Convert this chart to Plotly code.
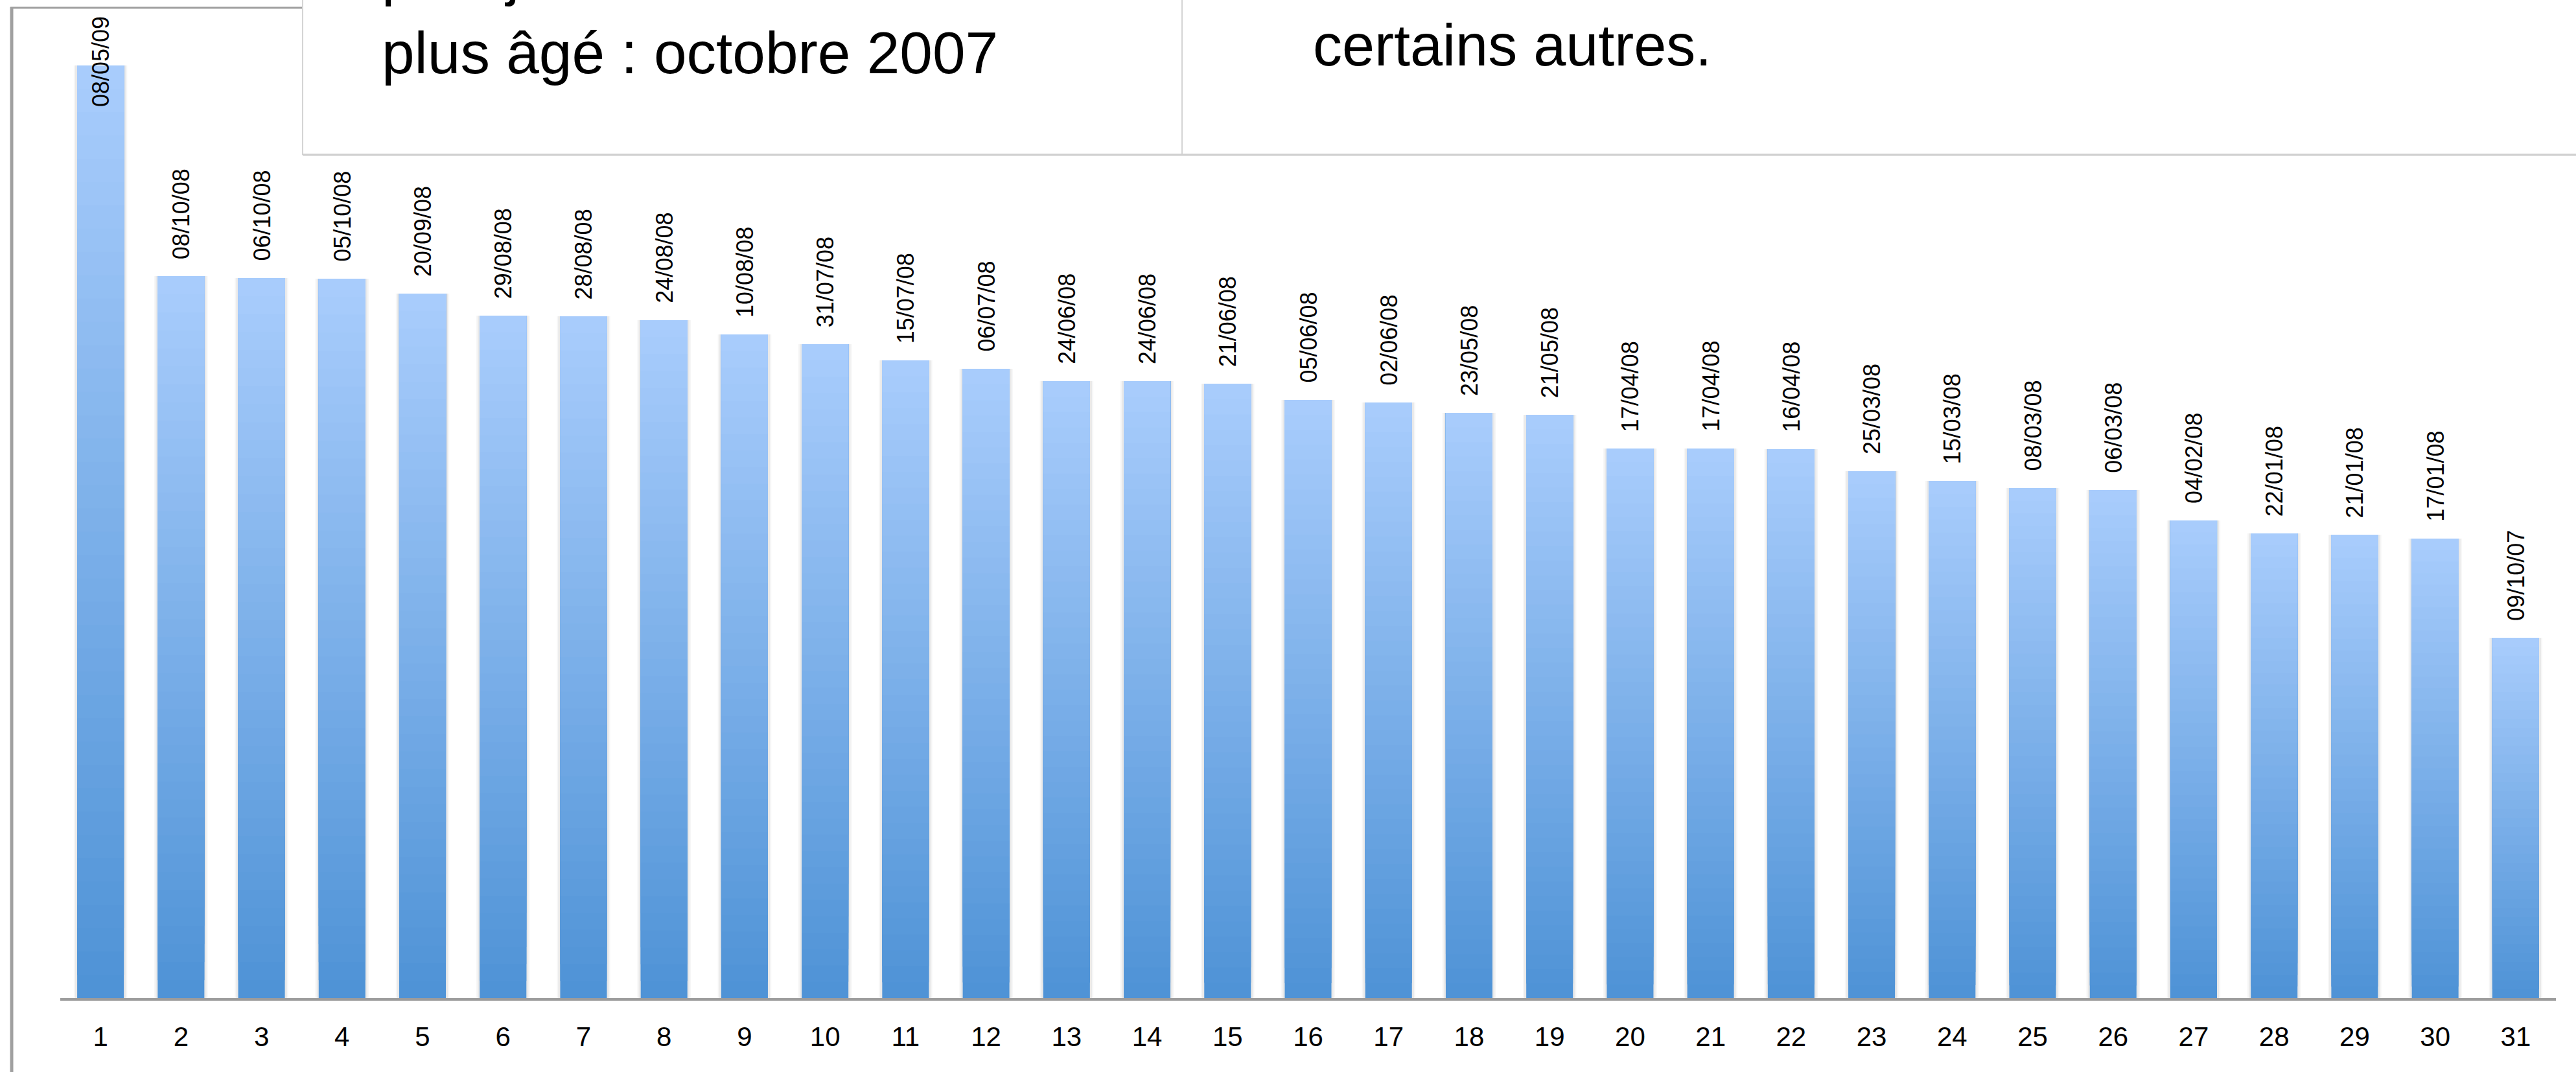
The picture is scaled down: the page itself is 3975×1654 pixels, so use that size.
import plotly.graph_objects as go

# ---------------- data ----------------
ranks = list(range(1, 32))
dates = ["08/05/09", "08/10/08", "06/10/08", "05/10/08", "20/09/08", "29/08/08",
         "28/08/08", "24/08/08", "10/08/08", "31/07/08", "15/07/08", "06/07/08",
         "24/06/08", "24/06/08", "21/06/08", "05/06/08", "02/06/08", "23/05/08",
         "21/05/08", "17/04/08", "17/04/08", "16/04/08", "25/03/08", "15/03/08",
         "08/03/08", "06/03/08", "04/02/08", "22/01/08", "21/01/08", "17/01/08",
         "09/10/07"]
values = [1439, 1114, 1111, 1110, 1087, 1053, 1052, 1046, 1024, 1009, 984,
          971, 952, 952, 948, 923, 919, 903, 900, 848, 848, 847, 813, 798,
          787, 784, 737, 717, 715, 709, 556]
tick_labels = [str(r) for r in ranks]
box_texts_left = ["plus jeune : mai 2009", "plus âgé : octobre 2007"]
box_text_right = "certains autres."

# ---------------- geometry ----------------
W, H = 3975, 1654
ML, MR, MT, MB = 93, 31, 23, 114
PW, PH = W - ML - MR, H - MT - MB
YMAX = 1517


def px_x(px):
    return (px - ML) / PW


def px_y(py):
    return (H - MB - py) / PH


FONT = "Liberation Sans, Arial, Helvetica, sans-serif"
BAR_W = 0.58

top_rgb = (168, 204, 252)
bot_rgb = (79, 147, 214)
N = 40

fig = go.Figure()

# soft shadow behind bars
for wextra, alpha in [(0.085, 0.035), (0.05, 0.05)]:
    fig.add_trace(go.Bar(x=ranks, y=values, width=BAR_W + wextra,
                         marker=dict(color=f"rgba(0,0,0,{alpha})", line=dict(width=0)),
                         hoverinfo="skip", showlegend=False))

# gradient bars (each layer from its fraction up to the top)
for k in range(N):
    t = k / (N - 1)
    c = tuple(round(bot_rgb[i] + (top_rgb[i] - bot_rgb[i]) * t) for i in range(3))
    base = [v * k / N for v in values]
    h = [v - b for v, b in zip(values, base)]
    fig.add_trace(go.Bar(x=ranks, y=h, base=base, width=BAR_W,
                         marker=dict(color=f"rgb{c}", line=dict(width=0)),
                         hoverinfo="skip", showlegend=False))

annotations = []
LABEL_GAP = 24
LABEL_LEN = 134
LABEL_SIZE = 36
for r, v, d in zip(ranks, values, dates):
    if v + (LABEL_GAP + LABEL_LEN) * YMAX / PH > YMAX:
        annotations.append(dict(x=r, y=1, xref="x", yref="paper", text=d,
                                textangle=-90, showarrow=False, xanchor="center",
                                yanchor="top",
                                font=dict(family=FONT, size=LABEL_SIZE, color="#000")))
    else:
        annotations.append(dict(x=r, y=v, xref="x", yref="y", text=d,
                                textangle=-90, showarrow=False, xanchor="center",
                                yanchor="bottom", yshift=LABEL_GAP,
                                font=dict(family=FONT, size=LABEL_SIZE, color="#000")))

# text boxes
annotations.append(dict(x=px_x(587), y=px_y(-41), xref="paper", yref="paper",
                        text=box_texts_left[0], showarrow=False, xanchor="left",
                        yanchor="middle", font=dict(family=FONT, size=91, color="#000")))
annotations.append(dict(x=px_x(587), y=px_y(81), xref="paper", yref="paper",
                        text=box_texts_left[1], showarrow=False, xanchor="left",
                        yanchor="middle", font=dict(family=FONT, size=91, color="#000")))
annotations.append(dict(x=px_x(2024), y=px_y(70), xref="paper", yref="paper",
                        text=box_text_right, showarrow=False, xanchor="left",
                        yanchor="middle", font=dict(family=FONT, size=90, color="#000")))

shapes = [
    # chart frame
    dict(type="line", xref="paper", yref="paper", x0=px_x(16), x1=px_x(W + 10),
         y0=px_y(12), y1=px_y(12), line=dict(color="#a0a0a0", width=3), layer="above"),
    dict(type="line", xref="paper", yref="paper", x0=px_x(18), x1=px_x(18),
         y0=px_y(11), y1=px_y(H + 10), line=dict(color="#a0a0a0", width=5), layer="above"),
    # text boxes
    dict(type="rect", xref="paper", yref="paper", x0=px_x(467), x1=px_x(1824),
         y0=px_y(-20), y1=px_y(238), fillcolor="white",
         line=dict(color="#d4d4d4", width=2), layer="above"),
    dict(type="rect", xref="paper", yref="paper", x0=px_x(1824), x1=px_x(W + 20),
         y0=px_y(-20), y1=px_y(238), fillcolor="white",
         line=dict(color="#d4d4d4", width=2), layer="above"),
    dict(type="line", xref="paper", yref="paper", x0=px_x(467), x1=px_x(W + 20),
         y0=px_y(239), y1=px_y(239), line=dict(color="#d0d0d0", width=3), layer="above"),
]

fig.update_layout(
    width=W, height=H,
    margin=dict(l=ML, r=MR, t=MT, b=MB, pad=0),
    paper_bgcolor="white", plot_bgcolor="white",
    barmode="overlay", bargap=0.42,
    showlegend=False,
    annotations=annotations,
    shapes=shapes,
    xaxis=dict(range=[0.5, 31.5], tickmode="array", tickvals=ranks, ticktext=tick_labels,
               showgrid=False, zeroline=False, showline=True, linecolor="#9c9c9c",
               linewidth=4, ticks="outside", ticklen=20, tickcolor="rgba(0,0,0,0)",
               tickfont=dict(family=FONT, size=42, color="#000"), fixedrange=True),
    yaxis=dict(range=[0, YMAX], visible=False, showgrid=False, zeroline=False,
               fixedrange=True),
)

fig.write_html("out.html", config={"displayModeBar": False},
               post_script="document.body.style.margin='0';document.body.style.overflow='hidden';")
